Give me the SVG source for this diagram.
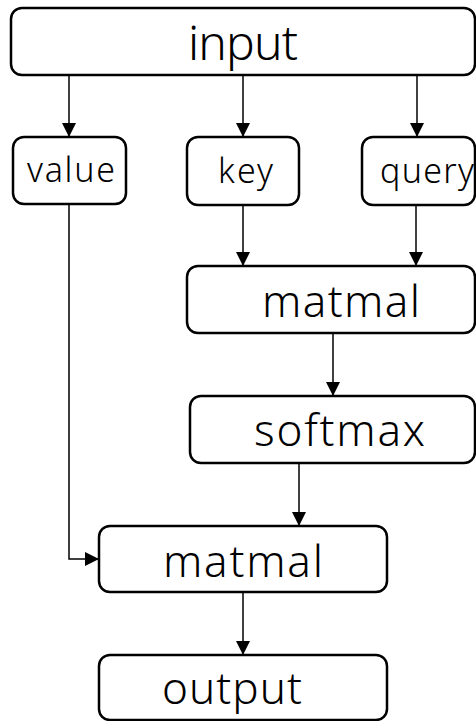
<svg xmlns="http://www.w3.org/2000/svg" width="476" height="721" viewBox="0 0 476 721">
  <style>
    .box { fill: #ffffff; stroke: #000000; stroke-width: 2.5; }
    .lbl { font-family: "Noto Sans", "Noto Sans CJK JP", sans-serif; font-weight: 300; fill: #000000; }
    .big { font-size: 48px; }
    .mid { font-size: 44px; }
    .small { font-size: 34px; }
    .edge { fill: none; stroke: #000000; stroke-width: 1.5; }
  </style>
  <defs>
    <marker id="arrow" markerUnits="userSpaceOnUse" markerWidth="14" markerHeight="14" viewBox="0 0 14 14" refX="14" refY="7" orient="auto">
      <path d="M0,0 L14,7 L0,14 Z" fill="#000000"/>
    </marker>
  </defs>
  <rect width="476" height="721" fill="#ffffff"/>

  <g id="connectors">
    <line class="edge" x1="69" y1="75" x2="69" y2="137" marker-end="url(#arrow)"/>
    <line class="edge" x1="243" y1="75" x2="243" y2="137" marker-end="url(#arrow)"/>
    <line class="edge" x1="417" y1="75" x2="417" y2="137" marker-end="url(#arrow)"/>
    <line class="edge" x1="243" y1="205" x2="243" y2="266" marker-end="url(#arrow)"/>
    <line class="edge" x1="416" y1="205" x2="416" y2="266" marker-end="url(#arrow)"/>
    <line class="edge" x1="333" y1="333" x2="333" y2="396" marker-end="url(#arrow)"/>
    <line class="edge" x1="299" y1="463" x2="299" y2="526" marker-end="url(#arrow)"/>
    <polyline class="edge" points="69,204 69,559 99,559" marker-end="url(#arrow)"/>
    <line class="edge" x1="243" y1="592" x2="243" y2="655" marker-end="url(#arrow)"/>
  </g>

  <g id="input">
    <rect class="box" x="11" y="8" width="464" height="67" rx="11"/>
    <text class="lbl big" x="188" y="60" textLength="110" lengthAdjust="spacing">input</text>
  </g>
  <g id="value">
    <rect class="box" x="13" y="137" width="113" height="67" rx="11"/>
    <text class="lbl small" x="27" y="182" textLength="88" lengthAdjust="spacing">value</text>
  </g>
  <g id="key">
    <rect class="box" x="187" y="137" width="112" height="68" rx="11"/>
    <text class="lbl small" x="218" y="183" textLength="55" lengthAdjust="spacing">key</text>
  </g>
  <g id="query">
    <rect class="box" x="362" y="137" width="113" height="68" rx="11"/>
    <text class="lbl small" x="380" y="183" textLength="94" lengthAdjust="spacing">query</text>
  </g>
  <g id="matmal-1">
    <rect class="box" x="187" y="266" width="288" height="67" rx="11"/>
    <text class="lbl mid" x="262" y="317" textLength="158" lengthAdjust="spacing">matmal</text>
  </g>
  <g id="softmax">
    <rect class="box" x="190" y="396" width="285" height="67" rx="11"/>
    <text class="lbl mid" x="254" y="446" textLength="171" lengthAdjust="spacing">softmax</text>
  </g>
  <g id="matmal-2">
    <rect class="box" x="99" y="526" width="288" height="66" rx="11"/>
    <text class="lbl mid" x="163" y="577" textLength="160" lengthAdjust="spacing">matmal</text>
  </g>
  <g id="output">
    <rect class="box" x="99" y="655" width="288" height="65" rx="11"/>
    <text class="lbl mid" x="162" y="704" textLength="140" lengthAdjust="spacing">output</text>
  </g>
</svg>
